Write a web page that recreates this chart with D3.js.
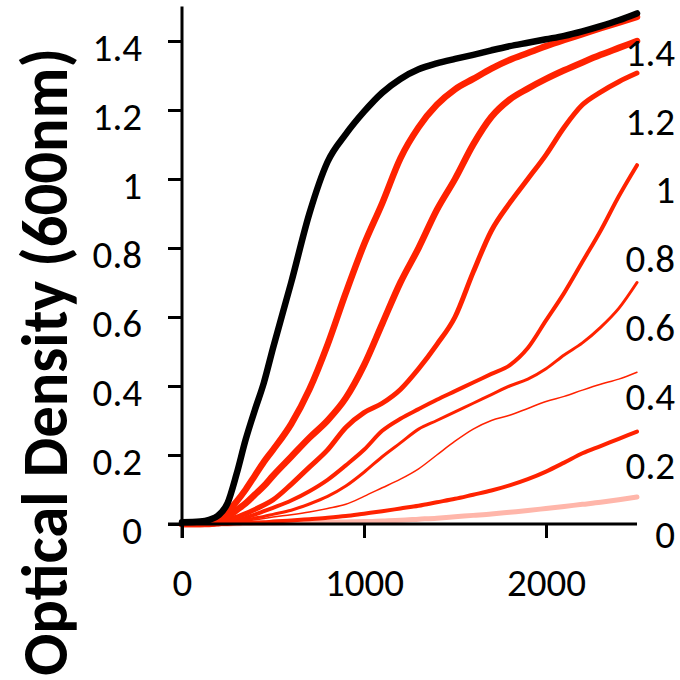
<!DOCTYPE html>
<html>
<head>
<meta charset="utf-8">
<script src="https://cdn.jsdelivr.net/npm/d3@7"></script>
<style>
  html, body { margin: 0; padding: 0; background: #fff; }
  svg { display: block; }
  text { font-family: Carlito, Calibri, Lato, "Open Sans", sans-serif; fill: #000; }
</style>
</head>
<body>
<div id="chart"></div>
<script>
// ---- data ----
const time = [0, 100, 150, 200, 250, 300, 350, 400, 450, 500, 600, 700, 800, 900, 1000,
              1100, 1200, 1300, 1400, 1500, 1600, 1700, 1800, 1900, 2000, 2100, 2200, 2300, 2400, 2500];

const control = [0.005, 0.007, 0.012, 0.025, 0.06, 0.145, 0.245, 0.33, 0.41, 0.51, 0.70, 0.90, 1.05, 1.13, 1.195,
                 1.25, 1.29, 1.318, 1.335, 1.348, 1.36, 1.373, 1.385, 1.395, 1.405, 1.415, 1.428, 1.443, 1.46, 1.48];
const dose1 = [0, 0, 0.002, 0.01, 0.035, 0.065, 0.10, 0.14, 0.18, 0.215, 0.29, 0.39, 0.52, 0.67, 0.81,
               0.93, 1.06, 1.15, 1.215, 1.26, 1.29, 1.32, 1.345, 1.365, 1.385, 1.403, 1.42, 1.437, 1.453, 1.47];
const dose2 = [0, 0, 0, 0.005, 0.02, 0.04, 0.06, 0.085, 0.11, 0.14, 0.195, 0.25, 0.30, 0.365, 0.46,
               0.58, 0.70, 0.80, 0.91, 1.00, 1.10, 1.18, 1.23, 1.262, 1.29, 1.315, 1.338, 1.36, 1.38, 1.40];
const dose3 = [0, 0, 0, 0, 0.01, 0.02, 0.03, 0.042, 0.055, 0.07, 0.115, 0.165, 0.215, 0.28, 0.323,
               0.35, 0.39, 0.45, 0.52, 0.60, 0.73, 0.85, 0.93, 1.00, 1.07, 1.15, 1.215, 1.252, 1.282, 1.307];
const dose4 = [0, 0, 0, 0, 0.005, 0.01, 0.018, 0.027, 0.037, 0.047, 0.068, 0.095, 0.128, 0.17, 0.215,
               0.27, 0.305, 0.333, 0.36, 0.385, 0.41, 0.435, 0.46, 0.51, 0.59, 0.67, 0.76, 0.85, 0.95, 1.04];
const dose5 = [0, 0, 0, 0, 0.003, 0.007, 0.012, 0.017, 0.022, 0.028, 0.04, 0.058, 0.08, 0.11, 0.15,
               0.195, 0.235, 0.275, 0.30, 0.325, 0.35, 0.375, 0.40, 0.42, 0.45, 0.49, 0.525, 0.57, 0.625, 0.70];
const dose6 = [0, 0, 0, 0, 0, 0.004, 0.008, 0.012, 0.016, 0.02, 0.027, 0.035, 0.045, 0.057, 0.08,
               0.105, 0.13, 0.16, 0.20, 0.24, 0.275, 0.30, 0.315, 0.335, 0.355, 0.37, 0.388, 0.405, 0.42, 0.44];
const dose7 = [0, 0, 0, 0, 0, 0.002, 0.003, 0.004, 0.005, 0.007, 0.01, 0.014, 0.018, 0.023, 0.03,
               0.037, 0.045, 0.053, 0.063, 0.073, 0.085, 0.097, 0.112, 0.13, 0.152, 0.178, 0.205, 0.226, 0.247, 0.268];
const dose8 = [0, 0, 0, 0, 0, 0.001, 0.0015, 0.002, 0.0025, 0.003, 0.004, 0.005, 0.005, 0.006, 0.007,
               0.009, 0.011, 0.014, 0.017, 0.021, 0.025, 0.029, 0.034, 0.039, 0.045, 0.051, 0.057, 0.063, 0.07, 0.078];

const yTickValues = [0, 0.2, 0.4, 0.6, 0.8, 1, 1.2, 1.4];
const yTickLabels = ["0", "0.2", "0.4", "0.6", "0.8", "1", "1.2", "1.4"];
const xTickValues = [0, 1000, 2000];
const xTickLabels = ["0", "1000", "2000"];
const yTitle = "Optical Density (600nm)";

// ---- series styling (drawing order: bottom first) ----
const series = [
  { values: dose8, color: "#ffb6aa", width: 5 },
  { values: dose7, color: "#ff2200", width: 4 },
  { values: dose6, color: "#ff2200", width: 1.5 },
  { values: dose5, color: "#ff2200", width: 3 },
  { values: dose4, color: "#ff2200", width: 4 },
  { values: dose3, color: "#ff2200", width: 5 },
  { values: dose2, color: "#ff2200", width: 6.5 },
  { values: dose1, color: "#ff2200", width: 6.5 },
  { values: control, color: "#000000", width: 6.5 }
];

const W = 680, H = 680;
const svg = d3.select("#chart").append("svg").attr("width", W).attr("height", H);

const x = d3.scaleLinear().domain([0, 2500]).range([182, 637]);
const y = d3.scaleLinear().domain([0, 1.5]).range([524, 6.5]);
// secondary (right-hand) label scale, slightly offset in the reference
const y2 = d3.scaleLinear().domain([0, 1.4]).range([534, 51.6]);

// lines
const line = d3.line()
  .x((d, i) => x(time[i]))
  .y(d => y(d))
  .curve(d3.curveMonotoneX);

svg.append("g").selectAll("path").data(series).join("path")
  .attr("d", s => line(s.values))
  .attr("fill", "none")
  .attr("stroke", s => s.color)
  .attr("stroke-width", s => s.width)
  .attr("stroke-linejoin", "round")
  .attr("stroke-linecap", "round");

// left axis
const yAxis = d3.axisLeft(y).tickValues(yTickValues).tickSize(14).tickSizeOuter(0)
  .tickFormat((d, i) => yTickLabels[i]).tickPadding(26);
const gy = svg.append("g").attr("transform", "translate(182,0)").call(yAxis);
gy.select(".domain").remove();
gy.selectAll(".tick line").attr("stroke", "#000").attr("stroke-width", 3);
gy.selectAll(".tick text").attr("font-size", 39).attr("dy", "0.5em").attr("fill", "#000");
svg.append("line").attr("x1", 182).attr("x2", 182).attr("y1", y(1.5)).attr("y2", 538)
  .attr("stroke", "#000").attr("stroke-width", 3);

// bottom axis
const xAxis = d3.axisBottom(x).tickValues(xTickValues).tickSize(14).tickSizeOuter(0)
  .tickFormat((d, i) => xTickLabels[i]).tickPadding(30);
const gx = svg.append("g").attr("transform", "translate(0,524)").call(xAxis);
gx.select(".domain").remove();
gx.selectAll(".tick line").attr("stroke", "#000").attr("stroke-width", 3);
gx.selectAll(".tick text").attr("font-size", 39).attr("fill", "#000");
svg.append("line").attr("x1", 168).attr("x2", x(2500)).attr("y1", 524).attr("y2", 524)
  .attr("stroke", "#000").attr("stroke-width", 3);

// right-hand labels (no axis line)
svg.append("g").selectAll("text").data(yTickValues).join("text")
  .attr("x", 675)
  .attr("y", d => y2(d))
  .attr("dy", "0.36em")
  .attr("text-anchor", "end")
  .attr("font-size", 39)
  .text((d, i) => yTickLabels[i]);

// y title
svg.append("text")
  .attr("transform", "translate(67,362) rotate(-90)")
  .attr("text-anchor", "middle")
  .attr("font-size", 64)
  .attr("font-weight", "bold")
  .attr("textLength", 628)
  .attr("lengthAdjust", "spacingAndGlyphs")
  .text(yTitle);
</script>
</body>
</html>
